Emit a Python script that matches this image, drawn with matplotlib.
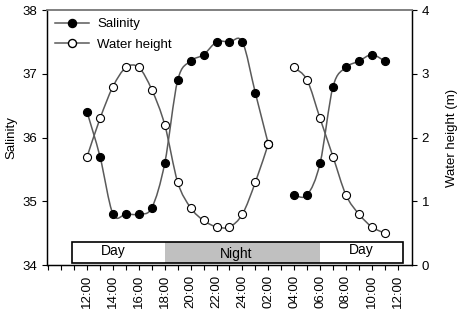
import numpy as np
import matplotlib
matplotlib.use("Agg")
import matplotlib.pyplot as plt
from matplotlib.path import Path
from matplotlib.patches import PathPatch, Rectangle
from matplotlib.lines import Line2D

plt.rcParams['font.family'] = ['Liberation Sans', 'DejaVu Sans']

# ---- data ----
times_a = ["12:00", "13:00", "14:00", "15:00", "16:00", "17:00", "18:00", "19:00",
           "20:00", "21:00", "22:00", "23:00", "24:00", "01:00", "02:00"]
times_b = ["04:00", "05:00", "06:00", "07:00", "08:00", "09:00", "10:00", "11:00"]
salinity_a = [36.4, 35.7, 34.8, 34.8, 34.8, 34.9, 35.6, 36.9, 37.2, 37.3, 37.5, 37.5, 37.5, 36.7, 35.9]
salinity_b = [35.1, 35.1, 35.6, 36.8, 37.1, 37.2, 37.3, 37.2]
water_a = [1.7, 2.3, 2.8, 3.1, 3.1, 2.75, 2.2, 1.3, 0.9, 0.7, 0.6, 0.6, 0.8, 1.3, 1.9]
water_b = [3.1, 2.9, 2.3, 1.7, 1.1, 0.8, 0.6, 0.5]
tick_labels = ["12:00", "14:00", "16:00", "18:00", "20:00", "22:00", "24:00",
               "02:00", "04:00", "06:00", "08:00", "10:00", "12:00"]
periods = ["Day", "Night", "Day"]
period_bounds = ["10:50", "18:00", "06:00", "12:24"]


def to_hours(labels):
    out = []
    prev = None
    offset = 0
    for s in labels:
        h, m = s.split(":")
        v = int(h) + int(m) / 60.0
        if prev is not None and v < prev:
            offset += 24
        prev = v
        out.append(v + offset)
    return np.array(out)

all_times = to_hours(times_a + times_b)
xa = all_times[:len(times_a)]
xb = all_times[len(times_a):]
tick_pos = to_hours(tick_labels)
bounds = to_hours(period_bounds)


def smooth_path(x, y):
    P = np.column_stack([x, y]).astype(float)
    n = len(P)
    verts = [P[0]]
    codes = [Path.MOVETO]
    for i in range(n - 1):
        p0 = P[i - 1] if i > 0 else P[i]
        p1 = P[i]
        p2 = P[i + 1]
        p3 = P[i + 2] if i + 2 < n else P[i + 1]
        c1 = p1 + (p2 - p0) / 6.0
        c2 = p2 - (p3 - p1) / 6.0
        verts += [c1, c2, p2]
        codes += [Path.CURVE4] * 3
    return Path(verts, codes)

line_col = "#5a5a5a"

fig = plt.figure(figsize=(4.65, 3.16), dpi=100)
ax = fig.add_axes([0.101, 0.161, 0.785, 0.807])
ax2 = ax.twinx()
ax.set_zorder(ax2.get_zorder() + 1)
ax.patch.set_visible(False)

ax.set_xlim(8.9, 37.1)
ax.set_ylim(34, 38)
ax2.set_ylim(0, 4)

# water height (open circles) on right axis
for x, y in [(xa, water_a), (xb, water_b)]:
    ax2.add_patch(PathPatch(smooth_path(x, y), fill=False, edgecolor=line_col, lw=1.1))
    ax2.plot(x, y, ls="none", marker="o", ms=5.8, mfc="white", mec="black", mew=0.8)

# salinity (filled circles)
for x, y in [(xa, salinity_a), (xb, salinity_b)]:
    ax.add_patch(PathPatch(smooth_path(x, y), fill=False, edgecolor=line_col, lw=1.1, zorder=2))
    ax.plot(x, y, ls="none", marker="o", ms=5.8, mfc="black", mec="black", mew=0.8, zorder=3)

# water marker drawn on top where both series overlap (02:00)
ax.plot(xa[-1:], [34 + water_a[-1]], ls="none", marker="o", ms=5.8, mfc="white",
        mec="black", mew=0.8, zorder=4)

# Day / Night bar
y0, y1 = 34.03, 34.37
for i, lab in enumerate(periods):
    x0, x1 = bounds[i], bounds[i + 1]
    fc = "#c0c0c0" if lab == "Night" else "white"
    ax.add_patch(Rectangle((x0, y0), x1 - x0, y1 - y0, facecolor=fc, edgecolor="none", zorder=2))
ax.add_patch(Rectangle((bounds[0], y0), bounds[-1] - bounds[0], y1 - y0, facecolor="none",
                       edgecolor="black", lw=1.2, zorder=3))
ax.text((bounds[0] + bounds[1]) / 2 - 0.4, (y0 + y1) / 2 + 0.02, periods[0], ha="center", va="center", fontsize=10, zorder=4)
ax.text((bounds[1] + bounds[2]) / 2 - 0.5, (y0 + y1) / 2 - 0.02, periods[1], ha="center", va="center", fontsize=10, zorder=4)
ax.text((bounds[2] + bounds[3]) / 2, (y0 + y1) / 2 + 0.03, periods[2], ha="center", va="center", fontsize=10, zorder=4)

# axes styling
ax.set_xticks(tick_pos)
ax.set_xticklabels(tick_labels, rotation=90, fontsize=9.5)
ax.set_xticks(np.arange(9, 37, 1), minor=True)
ax.tick_params(axis="x", which="both", direction="out", length=3.5, width=0.8)
ax.set_yticks([34, 35, 36, 37, 38])
ax.tick_params(axis="y", direction="out", length=3.5, width=0.8, labelsize=9.5)
ax2.set_yticks([0, 1, 2, 3, 4])
ax2.tick_params(axis="y", direction="out", length=3.5, width=0.8, labelsize=9.5)
ax.set_ylabel("Salinity", fontsize=9.5, labelpad=4)
ax2.set_ylabel("Water height (m)", fontsize=9.5, labelpad=12)

for a in (ax, ax2):
    a.spines["top"].set_color("#808080")
    a.spines["top"].set_linewidth(1.2)
    for s in ("left", "right", "bottom"):
        a.spines[s].set_linewidth(0.9)

# legend
h1 = Line2D([], [], color=line_col, lw=1.1, marker="o", ms=5.8, mfc="black", mec="black")
h2 = Line2D([], [], color=line_col, lw=1.1, marker="o", ms=5.8, mfc="white", mec="black")
ax.legend([h1, h2], ["Salinity", "Water height"], loc="upper left", frameon=False,
          fontsize=9.5, handlelength=2.6, borderaxespad=0.2, labelspacing=0.65,
          handletextpad=0.6, bbox_to_anchor=(0.0, 1.0))

fig.savefig("out.png", dpi=100)
